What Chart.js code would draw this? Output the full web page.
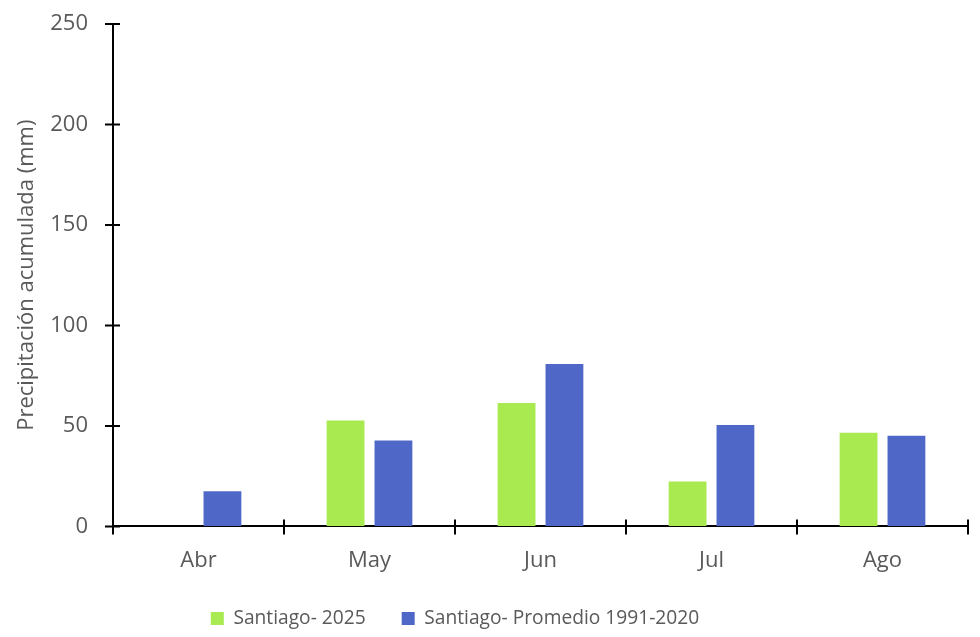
<!DOCTYPE html>
<html>
<head>
<meta charset="utf-8">
<script src="https://cdn.jsdelivr.net/npm/chart.js@4/dist/chart.umd.min.js"></script>
<style>
  html, body { margin: 0; padding: 0; background: #fff; }
  #wrap { width: 980px; height: 637px; position: relative; }
</style>
</head>
<body>
<div id="wrap"><canvas id="lluviaChart"></canvas></div>
<script>
const meses = ["Abr", "May", "Jun", "Jul", "Ago"];
const santiago2025 = [0, 52.7, 61.4, 22.3, 46.6];
const promedio1991_2020 = [17.5, 42.8, 80.8, 50.4, 45.1];
const yTicks = [0, 50, 100, 150, 200, 250];

const gris = "#595959";
const fuente = "'Open Sans', sans-serif";

// ticks that cross the axis line (Excel style)
const crossTicks = {
  id: "crossTicks",
  afterDraw(chart) {
    const ctx = chart.ctx;
    const x = chart.scales.x, y = chart.scales.y;
    ctx.save();
    ctx.strokeStyle = "#000";
    ctx.lineWidth = 2;
    ctx.beginPath();
    y.ticks.forEach((t, i) => {
      const py = y.getPixelForTick(i);
      ctx.moveTo(x.left - 8, py);
      ctx.lineTo(x.left + 7, py);
    });
    for (let i = 0; i <= meses.length; i++) {
      const px = x.left + (x.right - x.left) * i / meses.length;
      ctx.moveTo(px, y.bottom);
      ctx.lineTo(px, y.bottom - 7);
    }
    ctx.stroke();
    ctx.restore();
  }
};

// nudge the legend: Excel centres it left of the middle and tighter to the axis
const legendShift = {
  id: "legendShift",
  afterUpdate(chart) {
    const lg = chart.legend;
    lg.left -= 36; lg.right -= 36;
    lg.top -= 14; lg.bottom -= 14;
    lg.adjustHitBoxes();
  }
};

new Chart(document.getElementById("lluviaChart").getContext("2d"), {
  type: "bar",
  data: {
    labels: meses,
    datasets: [
      {
        label: "Santiago- 2025",
        data: santiago2025,
        backgroundColor: "#a9ea50",
        categoryPercentage: 0.56,
        barPercentage: 0.79,
      },
      {
        label: "Santiago- Promedio 1991-2020",
        data: promedio1991_2020,
        backgroundColor: "#4f68c8",
        categoryPercentage: 0.56,
        barPercentage: 0.79,
      },
    ],
  },
  options: {
    responsive: true,
    maintainAspectRatio: false,
    animation: false,
    layout: { padding: { top: 24, right: 12, left: 14, bottom: -15 } },
    plugins: {
      legend: {
        position: "bottom",
        labels: {
          color: gris,
          font: { family: fuente, size: 19.2 },
          boxWidth: 13,
          boxHeight: 13,
          padding: 36,
        },
      },
      tooltip: { enabled: false },
    },
    scales: {
      x: {
        offset: true,
        grid: {
          display: true,
          drawOnChartArea: false,
          offset: true,
          color: "#000",
          lineWidth: 2,
          tickLength: 8,
        },
        border: { color: "#000", width: 2 },
        ticks: { color: gris, font: { family: fuente, size: 22 }, padding: 13 },
      },
      y: {
        min: 0,
        max: 250,
        afterBuildTicks: (s) => { s.ticks = yTicks.map((v) => ({ value: v })); },
        grid: {
          drawOnChartArea: false,
          tickColor: "rgba(0,0,0,0)",
          tickLength: 25,
        },
        border: { color: "#000", width: 2 },
        ticks: { color: gris, font: { family: fuente, size: 22 }, padding: 0 },
        title: {
          display: true,
          text: "Precipitación acumulada (mm)",
          color: gris,
          font: { family: fuente, size: 22 },
          padding: 0,
        },
        afterFit: (s) => { s.width = 99; },
      },
    },
  },
  plugins: [crossTicks, legendShift],
});
</script>
</body>
</html>
